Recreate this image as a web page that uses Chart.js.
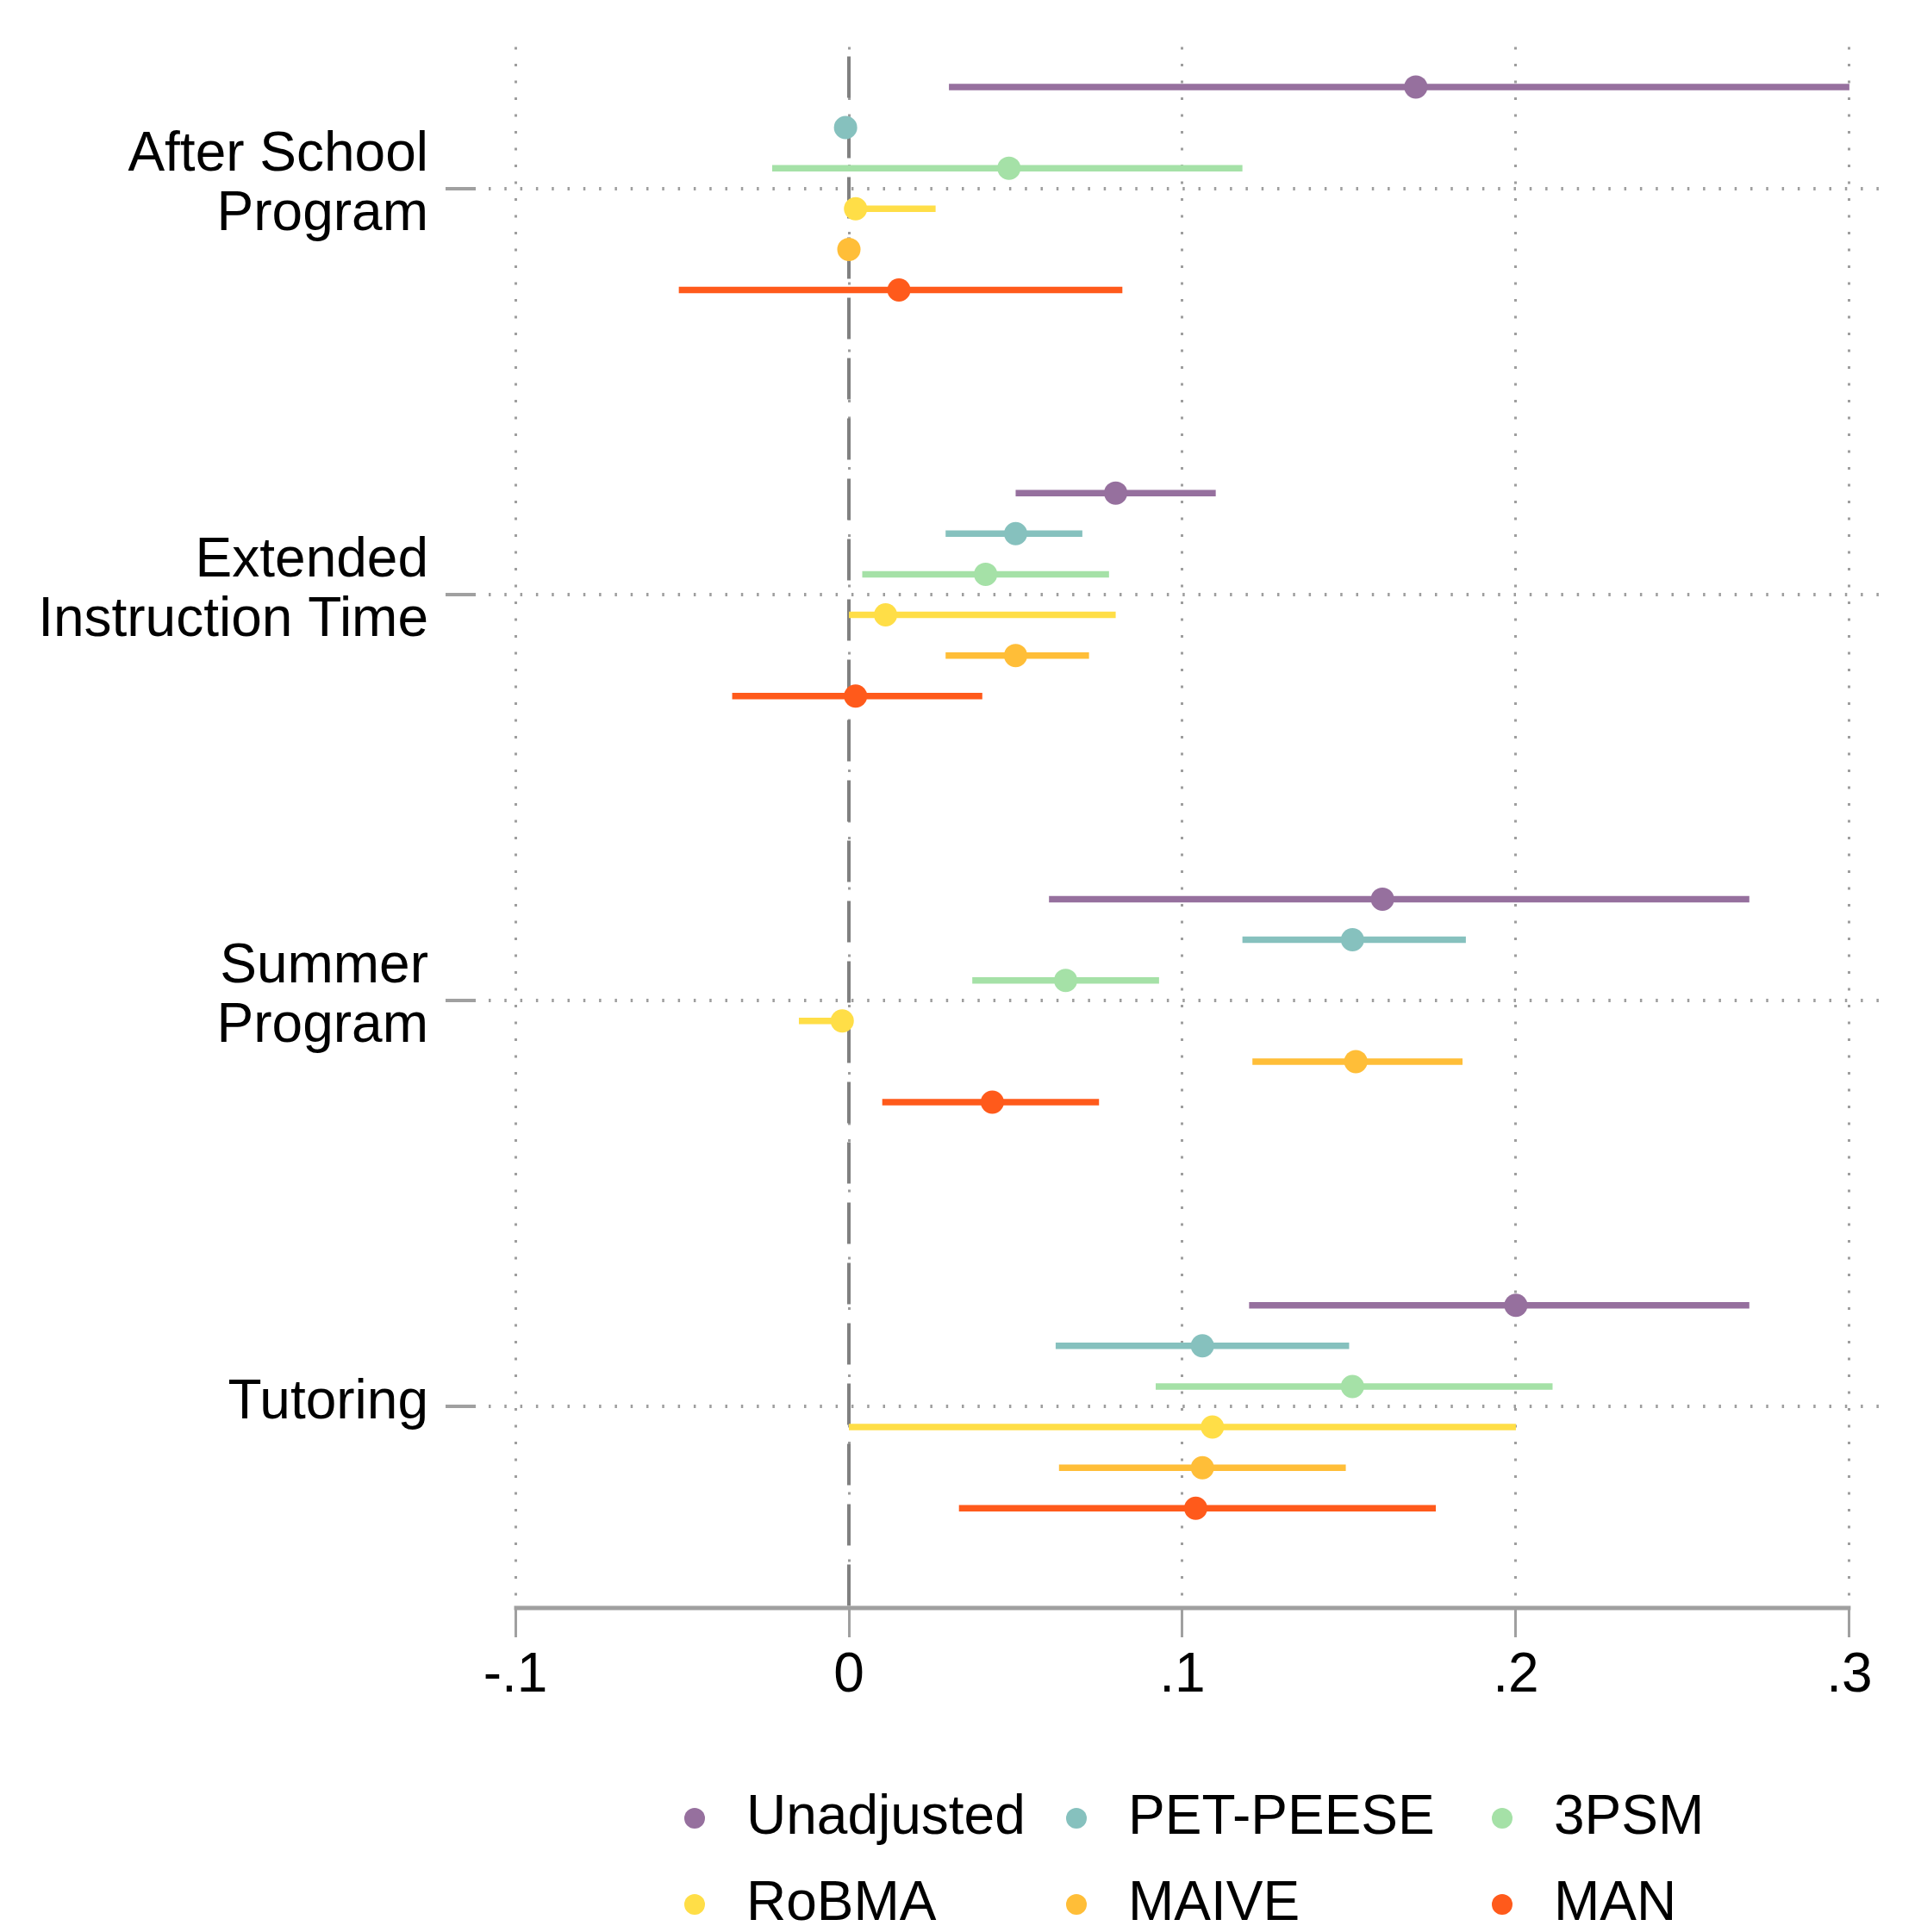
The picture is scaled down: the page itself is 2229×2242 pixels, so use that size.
<!DOCTYPE html>
<html>
<head>
<meta charset="utf-8">
<script src="https://cdn.jsdelivr.net/npm/chart.js@4"></script>
<style>
  html, body { margin: 0; padding: 0; background: #fff; overflow: hidden; }
  #wrap { width: 2229px; height: 2242px; }
</style>
</head>
<body>
<div id="wrap"><canvas id="chart"></canvas></div>
<script>
// categories (top to bottom) and their positions on the y scale
const categories = [['After School', 'Program'], ['Extended', 'Instruction Time'], ['Summer', 'Program'], ['Tutoring']];
const groupPos = [1, 2, 3, 4];

const methods = ['Unadjusted', 'PET-PEESE', '3PSM', 'RoBMA', 'MAIVE', 'MAN'];
const colors = ['#96709E', '#86C1BE', '#A5E1A7', '#FFDE47', '#FFBE38', '#FF5A1B'];

const xTicks = [-0.1, 0, 0.1, 0.2, 0.3];
const xTickLabels = ['-.1', '0', '.1', '.2', '.3'];

// point estimates, one per category
const estUnadjusted = [0.170, 0.080, 0.160, 0.200];
const estPetPeese   = [-0.001, 0.050, 0.151, 0.106];
const est3psm       = [0.048, 0.041, 0.065, 0.151];
const estRobma      = [0.002, 0.011, -0.002, 0.109];
const estMaive      = [0.000, 0.050, 0.152, 0.106];
const estMan        = [0.015, 0.002, 0.043, 0.104];

// lower bounds
const loUnadjusted = [0.030, 0.050, 0.060, 0.120];
const loPetPeese   = [-0.001, 0.029, 0.118, 0.062];
const lo3psm       = [-0.023, 0.004, 0.037, 0.092];
const loRobma      = [0.000, 0.000, -0.015, 0.000];
const loMaive      = [0.000, 0.029, 0.121, 0.063];
const loMan        = [-0.051, -0.035, 0.010, 0.033];

// upper bounds
const hiUnadjusted = [0.300, 0.110, 0.270, 0.270];
const hiPetPeese   = [-0.001, 0.070, 0.185, 0.150];
const hi3psm       = [0.118, 0.078, 0.093, 0.211];
const hiRobma      = [0.026, 0.080, 0.000, 0.200];
const hiMaive      = [0.000, 0.072, 0.184, 0.149];
const hiMan        = [0.082, 0.040, 0.075, 0.176];

const est = [estUnadjusted, estPetPeese, est3psm, estRobma, estMaive, estMan];
const lo = [loUnadjusted, loPetPeese, lo3psm, loRobma, loMaive, loMan];
const hi = [hiUnadjusted, hiPetPeese, hi3psm, hiRobma, hiMaive, hiMan];

const X_MIN = -0.1119, X_MAX = 0.3114;
const Y_MIN = 0.6517, Y_MAX = 4.4955;
const FONT = { family: "'Liberation Sans', Arial, sans-serif", size: 64, lineHeight: 1.08 };
const GRID = '#9E9E9E';
const AXIS = '#A0A0A0';

// each method gets its own row inside a category
const rowY = (g, m) => groupPos[g] - 0.25 + 0.1 * m;

const datasets = [];
methods.forEach((name, m) => {
  datasets.push({
    label: name,
    data: est[m].map((v, g) => ({ x: v, y: rowY(g, m) })),
    backgroundColor: colors[m],
    borderWidth: 0,
    pointRadius: 13.5,
    pointHoverRadius: 13.5,
    order: 0
  });
  categories.forEach((c, g) => {
    datasets.push({
      label: name + ' CI',
      data: [{ x: lo[m][g], y: rowY(g, m) }, { x: hi[m][g], y: rowY(g, m) }],
      showLine: true,
      borderColor: colors[m],
      borderWidth: 7.5,
      pointRadius: 0,
      order: 1
    });
  });
});
// reference line at zero
datasets.push({
  label: 'zero',
  data: [{ x: 0, y: Y_MIN }, { x: 0, y: Y_MAX }],
  showLine: true,
  borderColor: '#808080',
  borderWidth: 4,
  borderDash: [48, 22],
  borderDashOffset: 59,
  pointRadius: 0,
  order: 2
});

const extras = {
  id: 'extras',
  afterDraw(chart) {
    const ctx = chart.ctx;
    const xs = chart.scales.x;
    const b = chart.chartArea.bottom;
    ctx.save();
    // x axis line only between first and last tick
    ctx.strokeStyle = AXIS;
    ctx.lineWidth = 5;
    ctx.beginPath();
    ctx.moveTo(xs.getPixelForValue(xTicks[0]) - 1.5, b);
    ctx.lineTo(xs.getPixelForValue(xTicks[xTicks.length - 1]) + 1.5, b);
    ctx.stroke();

    // legend, 3 columns x 2 rows
    const markX = [806, 1249, 1743];
    const rowYs = [2110, 2210];
    ctx.font = FONT.size + 'px ' + FONT.family;
    ctx.textBaseline = 'middle';
    ctx.textAlign = 'left';
    methods.forEach((name, i) => {
      const cx = markX[i % 3], cy = rowYs[Math.floor(i / 3)];
      ctx.fillStyle = colors[i];
      ctx.beginPath();
      ctx.arc(cx, cy, 12, 0, Math.PI * 2);
      ctx.fill();
      ctx.fillStyle = '#000';
      ctx.fillText(name, cx + 60, cy);
    });
    ctx.restore();
  }
};

new Chart(document.getElementById('chart'), {
  type: 'scatter',
  data: { datasets },
  plugins: [extras],
  options: {
    responsive: true,
    maintainAspectRatio: false,
    animation: false,
    layout: { padding: { top: 53, right: 39, left: 0, bottom: 0 } },
    plugins: { legend: { display: false }, tooltip: { enabled: false } },
    scales: {
      x: {
        type: 'linear',
        min: X_MIN,
        max: X_MAX,
        afterBuildTicks: s => { s.ticks = xTicks.map(v => ({ value: v })); },
        afterFit: s => { s.height = 376; },
        ticks: { callback: (v, i) => xTickLabels[i], font: FONT, color: '#000', padding: 11, maxRotation: 0, autoSkip: false },
        grid: { color: GRID, lineWidth: 3, borderDash: [3, 16.5], tickLength: 34, tickWidth: 3, tickColor: AXIS, tickBorderDash: [] },
        border: { display: false, dash: [3, 16.5] }
      },
      y: {
        type: 'linear',
        reverse: true,
        min: Y_MIN,
        max: Y_MAX,
        afterBuildTicks: s => { s.ticks = groupPos.map(v => ({ value: v })); },
        afterFit: s => { s.width = 552; },
        ticks: { callback: (v, i) => categories[i], font: FONT, color: '#000', padding: 20, labelOffset: -4, autoSkip: false },
        grid: { color: GRID, lineWidth: 4, borderDash: [2.5, 15.8], borderDashOffset: 3.3, tickLength: 35, tickWidth: 4, tickColor: AXIS, tickBorderDash: [] },
        border: { display: false, dash: [2.5, 15.8], dashOffset: 3.3 }
      }
    }
  }
});
</script>
</body>
</html>
